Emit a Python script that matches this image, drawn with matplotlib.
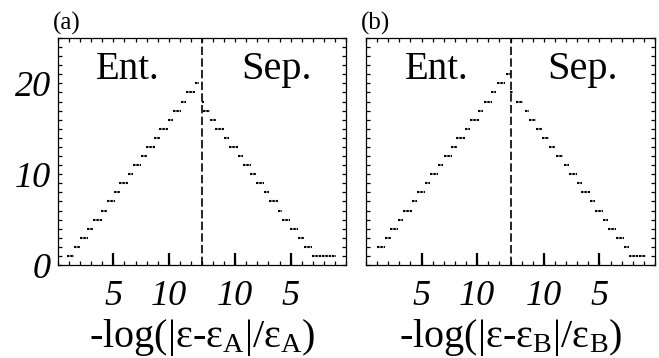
import matplotlib
matplotlib.use("Agg")
import matplotlib.pyplot as plt
from matplotlib.ticker import FixedLocator

plt.rcParams['font.family'] = ['Liberation Serif', 'DejaVu Sans']
plt.rcParams['mathtext.fontset'] = 'custom'
plt.rcParams['mathtext.rm'] = 'Liberation Serif'
plt.rcParams['mathtext.it'] = 'Liberation Serif:italic'

# ---------------- data ----------------
# Each staircase level: value, start and end of its run along the axis.
# Left half ("Ent."): position = -log value, increasing to the right.
a_left_levels = list(range(1, 21))
a_left_start = [0.79, 1.46, 1.97, 2.66, 3.16, 3.88, 4.38, 5.10, 5.55, 6.28,
                6.75, 7.45, 7.96, 8.65, 9.16, 9.91, 10.36, 11.12, 11.57, 12.33]
a_left_end = [1.46, 2.00, 2.71, 3.20, 3.93, 4.40, 5.12, 5.61, 6.36, 6.81,
              7.51, 7.99, 8.77, 9.22, 9.91, 10.36, 11.12, 11.57, 12.33, 12.77]

# Right half ("Sep."): -log value, decreasing to the right.
a_right_levels = list(range(18, 0, -1))
a_right_start = [13.02, 12.93, 12.24, 11.79, 11.04, 10.52, 9.77, 9.32, 8.63,
                 8.11, 7.42, 6.91, 6.16, 5.77, 5.02, 4.29, 3.82, 3.09]
a_right_end = [12.84, 12.26, 11.72, 11.04, 10.52, 9.77, 9.32, 8.56, 8.11,
               7.36, 6.91, 6.16, 5.77, 5.02, 4.29, 3.82, 3.06, 0.89]

b_left_levels = list(range(2, 22))
b_left_start = [0.96, 1.70, 2.15, 2.90, 3.35, 4.10, 4.55, 5.29, 5.74, 6.48,
                7.00, 7.69, 8.13, 8.88, 9.39, 10.07, 10.58, 11.27, 11.78, 12.56]
b_left_end = [1.70, 2.22, 2.90, 3.35, 4.10, 4.60, 5.29, 5.74, 6.48, 6.93,
              7.74, 8.19, 8.88, 9.33, 10.13, 10.52, 11.33, 11.72, 12.47, 13.00]

b_right_levels = list(range(19, 0, -1))
b_right_start = [13.06, 12.48, 11.74, 11.38, 10.69, 10.19, 9.50, 8.90, 8.15,
                 7.77, 7.05, 6.65, 5.87, 5.40, 4.72, 4.21, 3.49, 2.77, 2.32]
b_right_end = [12.79, 11.89, 11.38, 10.69, 10.19, 9.50, 8.99, 8.30, 7.70,
               7.05, 6.60, 5.88, 5.40, 4.65, 4.21, 3.49, 2.77, 2.32, 0.83]

half_span = 13          # each half of the axis covers -log from 0 to 13
x_tick_values = [5, 10, 10, 5]
y_tick_values = [0, 10, 20]
panel_labels = ['(a)', '(b)']
subs = ['A', 'B']

panels = [
    (a_left_levels, a_left_start, a_left_end, a_right_levels, a_right_start, a_right_end),
    (b_left_levels, b_left_start, b_left_end, b_right_levels, b_right_start, b_right_end),
]

# ---------------- figure ----------------
fig = plt.figure(figsize=(6.59, 3.58), dpi=100)
W, H = 659, 358
boxes = [(58, 346), (366, 655)]
top_px, bot_px = 38, 265

for i, (ll, ls, le, rl, rs, re_) in enumerate(panels):
    x0, x1 = boxes[i]
    ax = fig.add_axes([x0 / W, 1 - bot_px / H, (x1 - x0) / W, (bot_px - top_px) / H])
    ax.set_xlim(0, 2 * half_span)
    ax.set_ylim(0, 25)

    dash = (0, (1.2, 0.4))
    ax.hlines(ll, ls, le, colors='black', linewidth=1.5, linestyles=[dash])
    ax.hlines(rl, [2 * half_span - v for v in rs], [2 * half_span - v for v in re_],
              colors='black', linewidth=1.5, linestyles=[dash])

    ax.axvline(half_span, color='black', linewidth=1.2, dashes=(5.0, 2.0))

    for s in ax.spines.values():
        s.set_linewidth(0.9)

    # x ticks
    xpos = [v for v in x_tick_values[:2]] + [2 * half_span - v for v in x_tick_values[2:]]
    ax.xaxis.set_major_locator(FixedLocator(xpos))
    ax.xaxis.set_minor_locator(FixedLocator(list(range(0, 2 * half_span + 1))))
    ax.xaxis.remove_overlapping_locs = False
    ax.set_xticklabels([str(v) for v in x_tick_values], fontstyle='italic', fontsize=26)
    ax.tick_params(axis='x', which='major', direction='in', length=8.5, width=1.6,
                   top=False, bottom=True, pad=11)
    ax.tick_params(axis='x', which='minor', direction='in', length=2.8, width=0.9,
                   top=True, bottom=True)

    # y ticks
    ax.yaxis.set_major_locator(FixedLocator(y_tick_values))
    ax.yaxis.set_minor_locator(FixedLocator(list(range(0, 26))))
    ax.tick_params(axis='y', which='both', direction='in', length=3, width=0.9,
                   left=True, right=True)
    if i == 0:
        ax.set_yticklabels([str(v) for v in y_tick_values], fontstyle='italic', fontsize=26)
        ax.tick_params(axis='y', which='major', pad=5)
    else:
        ax.set_yticklabels([])

    ax.set_xlabel(r'-log(|ε-ε$_\mathrm{%s}$|/ε$_\mathrm{%s}$)' % (subs[i], subs[i]),
                  fontsize=29, va='baseline')
    ax.xaxis.set_label_coords(0.5, (bot_px - 347) / (bot_px - top_px))

    ax.text(3.45 if i == 0 else 3.5, 20.5, 'Ent.', fontsize=28, ha='left', va='baseline')
    ax.text(16.5 if i == 0 else 16.35, 20.5, 'Sep.', fontsize=29, ha='left', va='baseline')

    fig.text((x0 - 5) / W, 1 - 30 / H, panel_labels[i], fontsize=18, ha='left', va='baseline')

fig.savefig('out.png', dpi=100)
